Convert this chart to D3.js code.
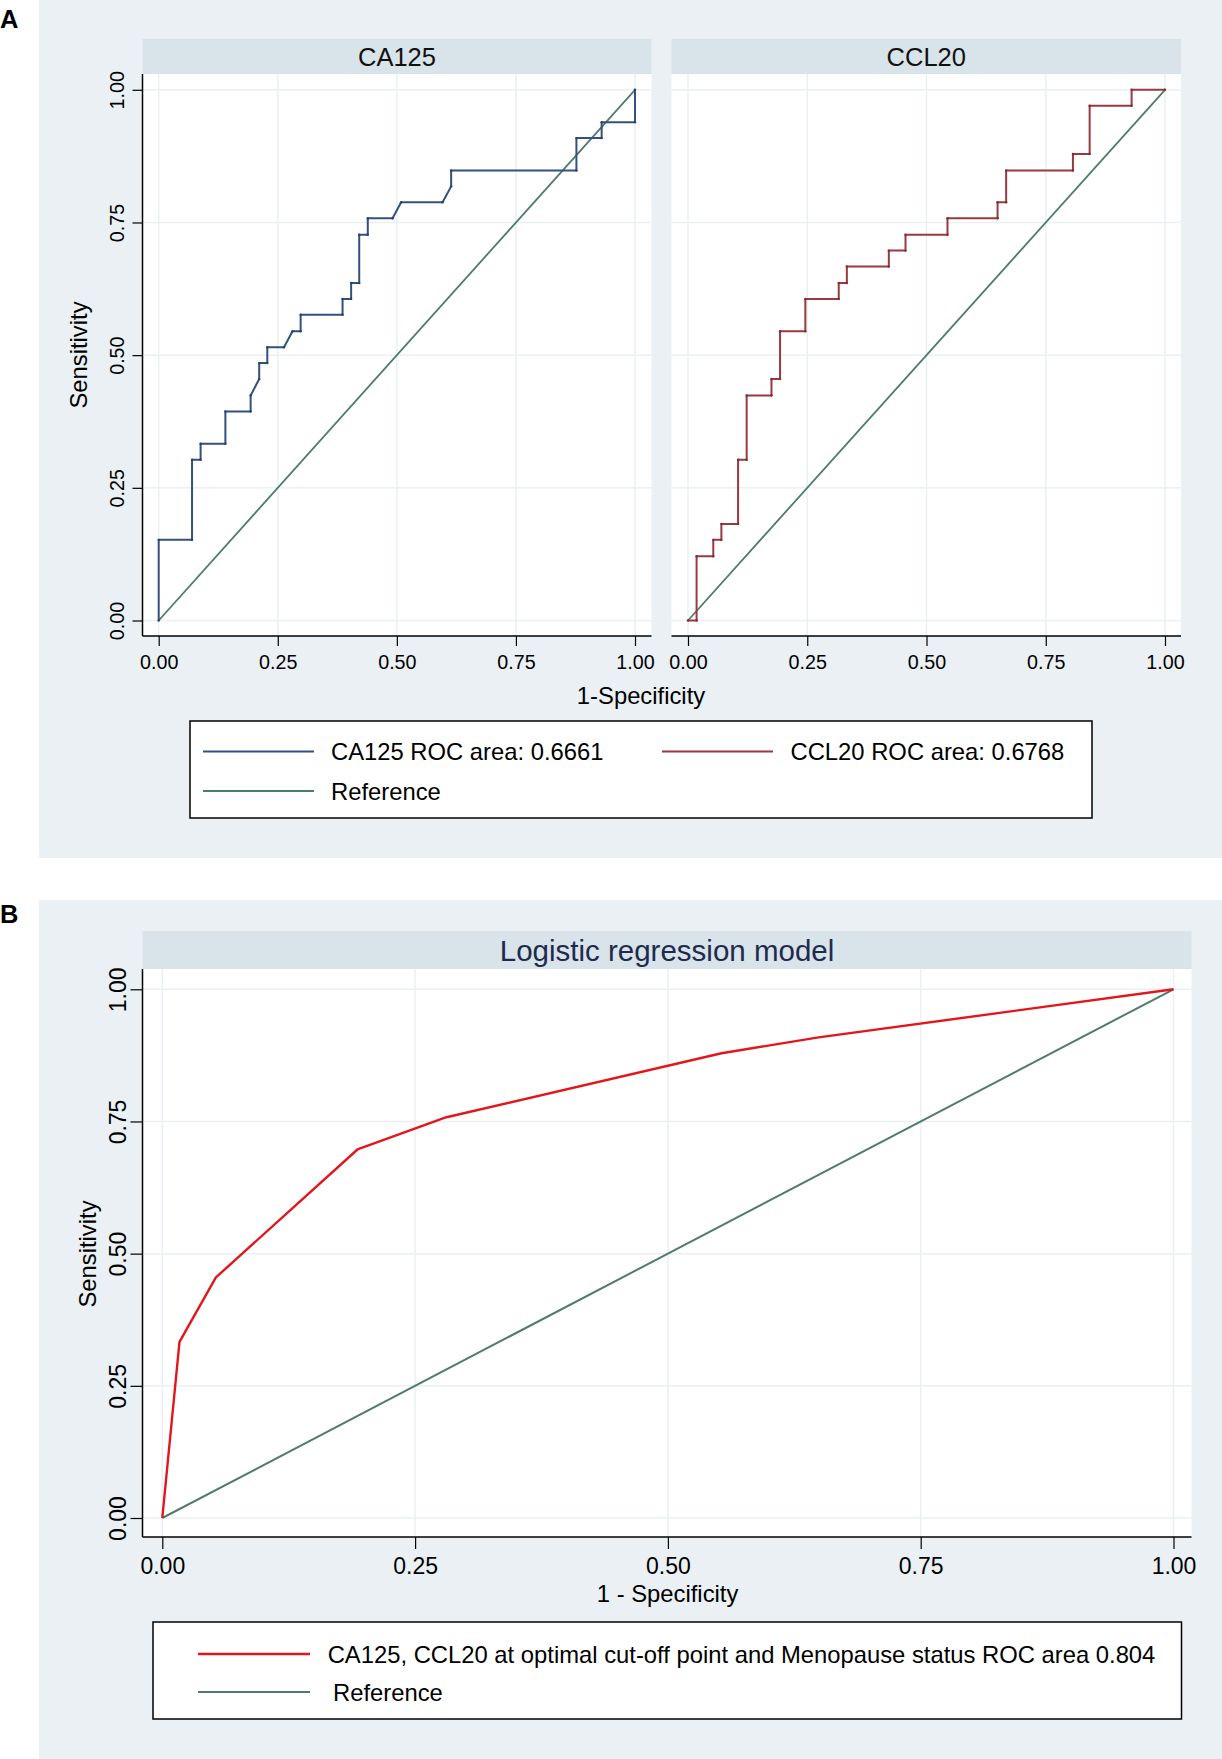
<!DOCTYPE html>
<html>
<head>
<meta charset="utf-8">
<script src="https://cdn.jsdelivr.net/npm/d3@7"></script>
<style>
  body { margin: 0; background: #fff; }
  svg { display: block; font-family: "Liberation Sans", Arial, Helvetica, sans-serif; }
</style>
</head>
<body>
<svg id="chart" width="1222" height="1759"></svg>
<script>
// ROC points (1-specificity, sensitivity)
var ca125Fpr = [0, 0, 0.070, 0.070, 0.088, 0.088, 0.140, 0.140, 0.193, 0.193, 0.211, 0.211, 0.228, 0.228, 0.263, 0.281, 0.298, 0.298, 0.386, 0.386, 0.404, 0.404, 0.421, 0.421, 0.439, 0.439, 0.491, 0.509, 0.596, 0.614, 0.614, 0.877, 0.877, 0.930, 0.930, 1, 1];
var ca125Tpr = [0, 0.152, 0.152, 0.303, 0.303, 0.333, 0.333, 0.394, 0.394, 0.424, 0.455, 0.485, 0.485, 0.515, 0.515, 0.545, 0.545, 0.576, 0.576, 0.606, 0.606, 0.636, 0.636, 0.727, 0.727, 0.758, 0.758, 0.788, 0.788, 0.818, 0.848, 0.848, 0.909, 0.909, 0.939, 0.939, 1];

var ccl20Fpr = [0, 0.018, 0.018, 0.053, 0.053, 0.070, 0.070, 0.105, 0.105, 0.123, 0.123, 0.175, 0.175, 0.193, 0.193, 0.246, 0.246, 0.316, 0.316, 0.333, 0.333, 0.421, 0.421, 0.456, 0.456, 0.544, 0.544, 0.649, 0.649, 0.667, 0.667, 0.807, 0.807, 0.842, 0.842, 0.930, 0.930, 1];
var ccl20Tpr = [0, 0, 0.121, 0.121, 0.152, 0.152, 0.182, 0.182, 0.303, 0.303, 0.424, 0.424, 0.455, 0.455, 0.545, 0.545, 0.606, 0.606, 0.636, 0.636, 0.667, 0.667, 0.697, 0.697, 0.727, 0.727, 0.758, 0.758, 0.788, 0.788, 0.848, 0.848, 0.879, 0.879, 0.970, 0.970, 1, 1];

var modelFpr = [0, 0.017, 0.053, 0.193, 0.281, 0.553, 0.649, 1];
var modelTpr = [0, 0.333, 0.455, 0.697, 0.758, 0.879, 0.909, 1];

var refLine = [0, 1];
var tickValues = [0, 0.25, 0.5, 0.75, 1];

var legendA = ["CA125 ROC area: 0.6661", "CCL20 ROC area: 0.6768", "Reference"];
var legendB = ["CA125, CCL20 at optimal cut-off point and Menopause status ROC area 0.804", "Reference"];

// colours (Stata s2color look)
var bgColor = '#eaf0f3', stripColor = '#d9e3ea', gridColor = '#eaf0f3';
var navy = '#34507f', maroon = '#983a40', refColor = '#4f7b6c', red = '#e3161b';

var svg = d3.select('#chart');
var fmt = d3.format('.2f');

function zip(xs, ys) {
	return xs.map(function (x, i) { return [x, ys[i]]; });
}

// one plot region: white box, grid, axes, curves
function drawPlot(p) {
	var x = d3.scaleLinear().domain([0, 1]).range(p.xRange);
	var y = d3.scaleLinear().domain([0, 1]).range(p.yRange);
	var g = svg.append('g');

	g.append('rect')
		.attr('x', p.left).attr('y', p.top)
		.attr('width', p.right - p.left).attr('height', p.bottom - p.top)
		.attr('fill', '#fff');

	// grid
	g.selectAll('.gx').data(tickValues).enter().append('line')
		.attr('x1', x).attr('x2', x).attr('y1', p.top).attr('y2', p.bottom)
		.attr('stroke', gridColor).attr('stroke-width', 1.5);
	g.selectAll('.gy').data(tickValues).enter().append('line')
		.attr('y1', y).attr('y2', y).attr('x1', p.left).attr('x2', p.right)
		.attr('stroke', gridColor).attr('stroke-width', 1.5);

	// bottom axis
	var xa = g.append('g')
		.attr('transform', 'translate(0,' + p.bottom + ')')
		.call(d3.axisBottom(x).tickValues(tickValues).tickFormat(fmt).tickSize(p.tickLen).tickPadding(p.tickPad));
	xa.select('.domain').remove();
	xa.selectAll('line').attr('stroke', '#000').attr('stroke-width', 1.2);
	xa.selectAll('text').attr('font-size', p.tickFont).attr('fill', '#000').attr('font-family', null);
	g.append('line')
		.attr('x1', p.left).attr('x2', p.right).attr('y1', p.bottom).attr('y2', p.bottom)
		.attr('stroke', '#000').attr('stroke-width', 1.5);

	// left axis, only where asked
	if (p.yAxis) {
		var ya = g.append('g')
			.attr('transform', 'translate(' + p.left + ',0)')
			.call(d3.axisLeft(y).tickValues(tickValues).tickFormat(fmt).tickSize(p.tickLen));
		ya.select('.domain').remove();
		ya.selectAll('line').attr('stroke', '#000').attr('stroke-width', 1.2);
		ya.selectAll('text')
			.attr('x', 0).attr('dy', 0)
			.attr('transform', 'translate(' + (-p.yLabOff) + ',0) rotate(-90)')
			.attr('text-anchor', 'middle')
			.attr('font-size', p.tickFont).attr('fill', '#000').attr('font-family', null);
		g.append('line')
			.attr('x1', p.left).attr('x2', p.left).attr('y1', p.top).attr('y2', p.bottom)
			.attr('stroke', '#000').attr('stroke-width', 1.5);
	}

	var line = d3.line().x(function (d) { return x(d[0]); }).y(function (d) { return y(d[1]); });

	g.append('path').datum(zip(refLine, refLine))
		.attr('d', line).attr('fill', 'none')
		.attr('stroke', refColor).attr('stroke-width', p.refWidth);

	g.append('path').datum(zip(p.fpr, p.tpr))
		.attr('d', line).attr('fill', 'none')
		.attr('stroke', p.color).attr('stroke-width', p.curveWidth)
		.attr('stroke-linejoin', 'round');

	if (p.dots) {
		g.selectAll('.dot').data(zip(p.fpr, p.tpr)).enter().append('circle')
			.attr('cx', function (d) { return x(d[0]); })
			.attr('cy', function (d) { return y(d[1]); })
			.attr('r', 1.2).attr('fill', d3.color(p.color).darker(0.6));
	}
}

function strip(x0, x1, y0, y1, label, size, color) {
	svg.append('rect').attr('x', x0).attr('y', y0).attr('width', x1 - x0).attr('height', y1 - y0)
		.attr('fill', stripColor);
	svg.append('text').attr('x', (x0 + x1) / 2).attr('y', (y0 + y1) / 2)
		.attr('dy', '0.36em').attr('text-anchor', 'middle')
		.attr('font-size', size).attr('fill', color).text(label);
}

function legendItem(lx0, lx1, tx, ly, color, label, size, width) {
	svg.append('line').attr('x1', lx0).attr('x2', lx1).attr('y1', ly).attr('y2', ly)
		.attr('stroke', color).attr('stroke-width', width);
	svg.append('text').attr('x', tx).attr('y', ly).attr('dy', '0.36em')
		.attr('font-size', size).attr('fill', '#000').text(label);
}

// ---------- panel A ----------
svg.append('rect').attr('x', 39).attr('y', 0).attr('width', 1183).attr('height', 858).attr('fill', bgColor);
svg.append('text').attr('x', 0).attr('y', 27.5).attr('font-size', 25.5).attr('font-weight', 'bold').text('A');

strip(142.5, 651.5, 39, 74, 'CA125', 25.5, '#111');
strip(671.5, 1181, 39, 74, 'CCL20', 25.5, '#111');

drawPlot({
	left: 142.5, right: 651.5, top: 74, bottom: 636,
	xRange: [158.7, 635], yRange: [620.5, 89.8],
	tickLen: 10, tickPad: 9, tickFont: 19.7, yLabOff: 18.5, yAxis: true,
	fpr: ca125Fpr, tpr: ca125Tpr, color: navy, curveWidth: 2, refWidth: 1.8, dots: true
});
drawPlot({
	left: 671.5, right: 1181, top: 74, bottom: 636,
	xRange: [688, 1165], yRange: [620.5, 89.8],
	tickLen: 10, tickPad: 9, tickFont: 19.7, yLabOff: 18.5, yAxis: false,
	fpr: ccl20Fpr, tpr: ccl20Tpr, color: maroon, curveWidth: 2, refWidth: 1.8, dots: true
});

svg.append('text').attr('x', 641).attr('y', 704).attr('text-anchor', 'middle')
	.attr('font-size', 23.8).text('1-Specificity');
svg.append('text').attr('transform', 'translate(87,355) rotate(-90)').attr('text-anchor', 'middle')
	.attr('font-size', 23.8).text('Sensitivity');

svg.append('rect').attr('x', 190).attr('y', 721).attr('width', 902).attr('height', 97)
	.attr('fill', '#fff').attr('stroke', '#000').attr('stroke-width', 1.5);
legendItem(203, 314, 331, 751.5, navy, legendA[0], 23.8, 2);
legendItem(662, 773, 790.5, 751.5, maroon, legendA[1], 23.8, 2);
legendItem(203, 314, 331, 791, refColor, legendA[2], 23.8, 2);

// ---------- panel B ----------
svg.append('rect').attr('x', 39).attr('y', 900).attr('width', 1183).attr('height', 859).attr('fill', bgColor);
svg.append('text').attr('x', 0).attr('y', 923).attr('font-size', 25.5).attr('font-weight', 'bold').text('B');

strip(142.5, 1191.5, 931, 969, 'Logistic regression model', 29.5, '#1f2b4d');

drawPlot({
	left: 142.5, right: 1191.5, top: 969, bottom: 1537,
	xRange: [162.3, 1173.5], yRange: [1518, 989.3],
	tickLen: 12, tickPad: 9, tickFont: 23, yLabOff: 16.2, yAxis: true,
	fpr: modelFpr, tpr: modelTpr, color: red, curveWidth: 2.4, refWidth: 2, dots: false
});

svg.append('text').attr('x', 667.6).attr('y', 1602).attr('text-anchor', 'middle')
	.attr('font-size', 23.8).text('1 - Specificity');
svg.append('text').attr('transform', 'translate(96,1254) rotate(-90)').attr('text-anchor', 'middle')
	.attr('font-size', 23.8).text('Sensitivity');

svg.append('rect').attr('x', 153).attr('y', 1622).attr('width', 1028.5).attr('height', 97)
	.attr('fill', '#fff').attr('stroke', '#000').attr('stroke-width', 1.5);
legendItem(198, 310, 327.7, 1654, red, legendB[0], 23.8, 2.4);
legendItem(198, 310, 333, 1692, refColor, legendB[1], 23.8, 2.2);
</script>
</body>
</html>
